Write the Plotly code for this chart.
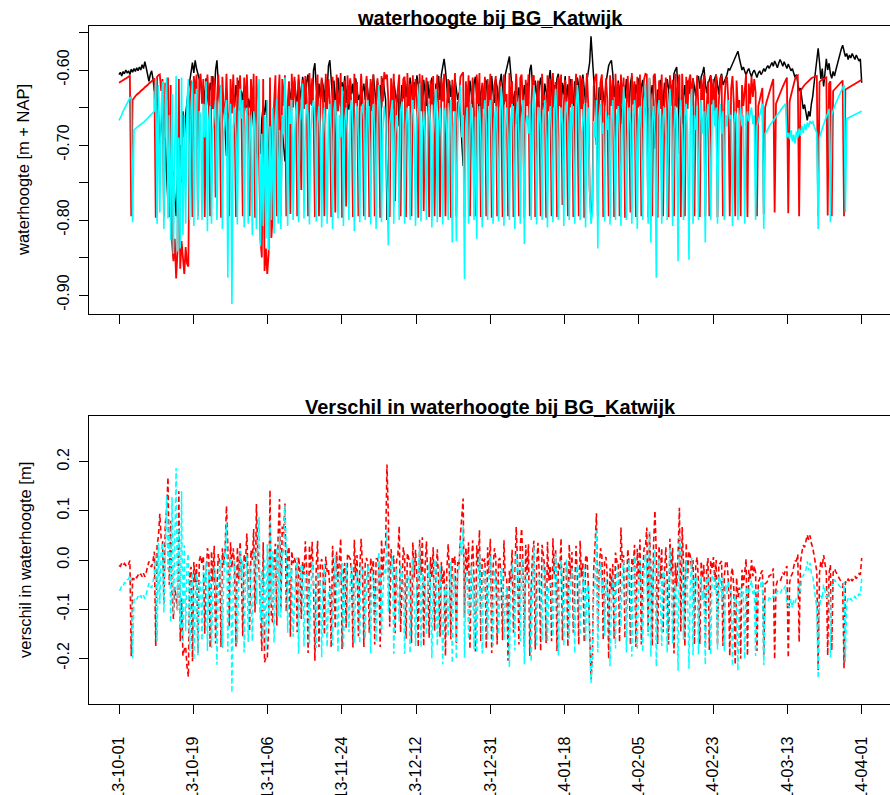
import numpy as np
import pandas as pd
import plotly.graph_objects as go

# ---------------- data (water levels in mm relative to NAP, 8-hourly) ----------------
START = "2013-10-01 00:00"
STEP = "8h"

black_mm = [
    -606,-603,-608,-602,-605,-600,-604,-601,-606,-599,-603,-598,-602,-597,-601,-596,-600,-593,-598,-589,-597,-605,-615,-606,-601,-612,-628,-622,-640,-655,
    -700,-672,-650,-705,-690,-740,-778,-745,-700,-760,-735,-770,-795,-740,-752,-700,-750,-655,-690,-660,-640,-625,-615,-600,-590,-604,-587,-598,-606,-612,
    -614,-636,-620,-646,-611,-630,-649,-617,-626,-608,-640,-600,-587,-618,-643,-620,-633,-645,-680,-715,-690,-660,-648,-642,-630,-648,-620,-636,-614,-644,
    -628,-640,-622,-645,-660,-638,-650,-632,-655,-668,-690,-722,-680,-700,-712,-665,-648,-660,-640,-672,-705,-752,-710,-668,-650,-640,-662,-690,-730,-695,
    -680,-700,-722,-690,-660,-642,-636,-623,-644,-614,-633,-648,-612,-626,-640,-609,-622,-646,-615,-606,-634,-620,-648,-600,-591,-623,-645,-618,-638,-612,
    -620,-643,-612,-628,-594,-587,-618,-638,-614,-650,-623,-610,-636,-648,-616,-628,-608,-644,-620,-653,-613,-632,-618,-646,-611,-626,-640,-633,-648,-628,
    -618,-640,-612,-630,-648,-616,-634,-606,-623,-646,-614,-636,-620,-650,-611,-628,-640,-800,-730,-660,-633,-648,-614,-626,-643,-630,-675,-648,-620,-638,
    -614,-636,-618,-648,-610,-626,-643,-616,-633,-607,-620,-646,-624,-653,-613,-630,-648,-615,-638,-620,-610,-634,-651,-618,-628,-608,-640,-606,-594,-585,
    -600,-628,-644,-614,-636,-620,-648,-611,-626,-640,-630,-660,-700,-728,-680,-640,-626,-643,-614,-633,-650,-618,-609,-636,-630,-665,-630,-620,-646,-612,
    -615,-638,-620,-648,-608,-630,-644,-612,-623,-650,-618,-605,-633,-646,-606,-595,-590,-582,-605,-636,-648,-628,-672,-640,-623,-640,-670,-638,-620,-644,
    -617,-638,-600,-593,-623,-646,-614,-632,-649,-620,-610,-636,-653,-618,-628,-644,-613,-600,-630,-648,-620,-638,-611,-605,-626,-650,-617,-633,-608,-643,
    -619,-640,-612,-628,-648,-615,-634,-610,-623,-646,-618,-606,-630,-644,-614,-600,-590,-555,-585,-603,-640,-700,-650,-623,-640,-614,-633,-648,-617,-606,
    -594,-590,-587,-605,-636,-620,-648,-614,-628,-672,-640,-620,-638,-612,-630,-650,-617,-608,-634,-646,-619,-632,-611,-648,-623,-613,-636,-630,-672,-650,
    -668,-633,-620,-640,-705,-660,-626,-643,-613,-630,-648,-617,-636,-612,-624,-650,-620,-638,-605,-600,-596,-630,-712,-650,-672,-638,-620,-644,-614,-632,
    -614,-630,-611,-623,-635,-613,-608,-625,-609,-604,-596,-617,-631,-619,-612,-607,-627,-618,-611,-606,-623,-633,-611,-605,-620,-615,-611,-606,-598,-600,
    -596,-592,-586,-582,-578,-575,-584,-594,-600,-596,-603,-607,-601,-598,-604,-609,-603,-600,-605,-610,-604,-601,-606,-603,-598,-602,-597,-594,-598,-593,
    -590,-595,-588,-592,-597,-591,-586,-590,-595,-589,-593,-598,-592,-596,-601,-598,-604,-610,-606,-618,-628,-624,-640,-652,-646,-660,-667,-655,-662,-645,
    -635,-618,-600,-585,-571,-590,-612,-598,-622,-604,-585,-600,-591,-605,-611,-602,-608,-600,-592,-585,-578,-572,-567,-575,-582,-578,-586,-580,-584,-578,
    -582,-586,-580,-584,-588,-585,-617,
]

red_mm = [
    -617,-616,-615,-613,-612,-611,-610,-609,-607,-795,-640,-637,-635,-633,-632,-630,-628,-627,-625,-623,-622,-620,-618,-617,-615,-613,-611,-797,-609,-607,
    -606,-628,-612,-795,-617,-640,-610,-796,-620,-830,-855,-825,-878,-842,-612,-865,-828,-850,-872,-836,-858,-862,-640,-614,-796,-608,-632,-606,-795,-613,
    -605,-645,-612,-796,-650,-606,-640,-795,-608,-652,-611,-770,-642,-606,-648,-797,-609,-655,-660,-605,-662,-795,-612,-658,-606,-663,-796,-610,-655,-607,
    -658,-795,-610,-650,-606,-663,-795,-612,-655,-605,-797,-608,-660,-720,-826,-850,-612,-868,-838,-872,-845,-610,-824,-795,-645,-607,-795,-640,-606,-794,
    -612,-648,-607,-795,-645,-615,-792,-605,-650,-609,-642,-795,-606,-644,-760,-613,-652,-608,-640,-795,-604,-646,-611,-655,-796,-636,-606,-795,-648,-610,
    -645,-795,-605,-652,-612,-642,-796,-609,-648,-790,-606,-655,-637,-604,-797,-650,-614,-782,-607,-646,-611,-658,-796,-605,-644,-616,-795,-652,-605,-640,
    -795,-648,-608,-640,-796,-612,-655,-606,-795,-644,-611,-650,-797,-608,-642,-603,-612,-606,-640,-796,-611,-652,-605,-775,-645,-620,-606,-795,-648,-612,
    -609,-796,-604,-648,-618,-795,-607,-652,-612,-640,-797,-605,-655,-607,-788,-644,-610,-650,-796,-614,-646,-608,-795,-650,-606,-655,-796,-610,-642,-605,
    -795,-648,-612,-650,-797,-613,-655,-604,-795,-644,-640,-609,-605,-603,-796,-615,-650,-607,-795,-648,-610,-656,-795,-606,-645,-604,-796,-617,-652,-609,
    -795,-612,-648,-605,-797,-646,-620,-608,-795,-650,-614,-655,-796,-606,-642,-632,-795,-604,-650,-615,-796,-648,-605,-645,-795,-611,-606,-650,-797,-613,
    -648,-606,-795,-650,-612,-607,-796,-646,-614,-652,-795,-605,-644,-633,-797,-607,-655,-612,-795,-604,-650,-616,-796,-609,-648,-606,-780,-646,-613,-652,
    -795,-608,-650,-612,-796,-645,-605,-648,-795,-607,-652,-611,-797,-640,-604,-648,-760,-798,-780,-622,-609,-605,-795,-645,-616,-606,-796,-650,-611,-640,
    -795,-607,-648,-613,-796,-605,-652,-617,-795,-606,-645,-610,-797,-650,-608,-655,-790,-604,-646,-615,-796,-609,-650,-606,-795,-642,-612,-605,-606,-796,
    -611,-650,-795,-608,-605,-646,-797,-614,-652,-606,-795,-645,-610,-655,-796,-607,-648,-613,-795,-605,-650,-617,-606,-796,-605,-645,-795,-609,-652,-614,
    -606,-648,-611,-795,-645,-607,-652,-796,-612,-640,-606,-795,-650,-615,-795,-608,-646,-612,-655,-606,-796,-640,-618,-607,-795,-648,-614,-609,-642,-795,
    -625,-608,-645,-795,-614,-650,-640,-795,-620,-648,-628,-605,-796,-618,-645,-609,-636,-612,-630,-795,-648,-640,-632,-624,-792,-650,-643,-636,-630,-624,
    -618,-612,-790,-645,-640,-635,-630,-626,-622,-618,-614,-610,-791,-642,-634,-626,-618,-612,-608,-607,-795,-628,-625,-622,-620,-618,-616,-614,-612,-611,
    -610,-609,-608,-608,-795,-616,-614,-613,-612,-611,-610,-794,-618,-615,-795,-628,-626,-624,-622,-620,-618,-616,-614,-795,-626,-625,-624,-623,-622,-621,
    -620,-619,-618,-617,-616,-615,-613,
]

cyan_mm = [
    -667,-664,-660,-655,-651,-647,-644,-640,-637,-636,-803,-680,-678,-677,-675,-674,-672,-671,-670,-668,-666,-664,-662,-660,-658,-657,-655,-612,-805,-620,
    -790,-655,-615,-812,-648,-610,-798,-660,-827,-632,-845,-700,-608,-842,-690,-838,-610,-820,-660,-805,-645,-612,-800,-650,-615,-808,-664,-625,-800,-655,
    -660,-800,-645,-690,-615,-815,-668,-648,-805,-680,-655,-640,-800,-672,-650,-620,-812,-685,-652,-640,-877,-668,-645,-912,-675,-650,-690,-806,-660,-625,
    -665,-640,-810,-680,-650,-805,-660,-690,-820,-655,-672,-812,-645,-612,-835,-685,-808,-660,-825,-640,-840,-675,-800,-650,-818,-668,-638,-805,-680,-812,
    -660,-685,-610,-665,-808,-648,-672,-640,-800,-690,-655,-642,-803,-668,-650,-618,-798,-675,-645,-660,-806,-683,-650,-640,-665,-802,-670,-648,-690,-810,
    -672,-650,-690,-805,-660,-645,-680,-812,-655,-640,-675,-798,-660,-690,-622,-808,-668,-650,-685,-800,-655,-640,-678,-815,-665,-648,-690,-803,-660,-645,
    -668,-800,-655,-640,-685,-806,-660,-645,-690,-812,-670,-620,-655,-803,-680,-648,-668,-740,-834,-672,-650,-640,-805,-685,-660,-690,-800,-655,-642,-678,
    -805,-672,-650,-685,-800,-660,-640,-688,-808,-665,-648,-618,-802,-680,-655,-690,-800,-662,-645,-675,-810,-685,-650,-625,-803,-672,-650,-690,-806,-660,
    -650,-688,-800,-665,-640,-830,-675,-655,-828,-668,-648,-620,-690,-660,-879,-672,-650,-805,-680,-645,-690,-800,-662,-825,-670,-648,-690,-810,-665,-640,
    -672,-800,-660,-640,-690,-805,-665,-648,-685,-802,-670,-622,-655,-808,-680,-650,-690,-800,-668,-645,-680,-812,-660,-642,-688,-805,-665,-640,-832,-672,
    -660,-685,-645,-800,-670,-620,-660,-806,-688,-650,-672,-800,-660,-640,-690,-810,-668,-648,-682,-803,-655,-625,-668,-800,-690,-650,-672,-808,-660,-642,
    -672,-800,-660,-645,-685,-805,-665,-620,-650,-800,-688,-660,-645,-810,-672,-650,-760,-805,-790,-668,-690,-640,-838,-662,-645,-685,-670,-802,-655,-680,
    -660,-806,-675,-640,-690,-800,-662,-648,-685,-808,-668,-622,-660,-800,-688,-650,-672,-805,-660,-640,-690,-812,-670,-648,-680,-800,-660,-618,-685,-805,
    -610,-830,-668,-648,-685,-877,-660,-640,-680,-805,-662,-650,-690,-800,-672,-625,-660,-808,-680,-648,-670,-855,-665,-640,-688,-800,-662,-645,-685,-853,
    -665,-625,-805,-660,-680,-648,-800,-672,-640,-685,-655,-830,-668,-645,-690,-800,-662,-640,-675,-650,-805,-668,-645,-685,-655,-800,-660,-675,-640,-665,
    -660,-808,-672,-655,-662,-800,-668,-650,-675,-660,-805,-670,-655,-668,-660,-650,-672,-660,-800,-675,-668,-660,-652,-645,-812,-685,-682,-678,-675,-672,
    -670,-668,-665,-662,-660,-657,-655,-652,-650,-647,-645,-690,-684,-692,-680,-695,-686,-698,-682,-690,-678,-688,-674,-684,-672,-680,-670,-676,-668,-672,
    -668,-675,-680,-684,-812,-690,-684,-678,-672,-668,-662,-658,-652,-803,-660,-654,-648,-644,-640,-636,-632,-628,-624,-620,-790,-665,-664,-663,-662,-661,
    -660,-660,-659,-658,-657,-656,-655,
]

tick_labels = ["2013-10-01", "2013-10-19", "2013-11-06", "2013-11-24", "2013-12-12",
               "2013-12-31", "2014-01-18", "2014-02-05", "2014-02-23", "2014-03-13",
               "2014-04-01"]
top_tick_vals = [-0.55, -0.60, -0.65, -0.70, -0.75, -0.80, -0.85, -0.90]
top_tick_text = ["", "-0.60", "", "-0.70", "", "-0.80", "", "-0.90"]
bot_tick_vals = [-0.2, -0.1, 0.0, 0.1, 0.2]
bot_tick_text = ["-0.2", "-0.1", "0.0", "0.1", "0.2"]

assert len(black_mm) == len(red_mm) == len(cyan_mm), (len(black_mm), len(red_mm), len(cyan_mm))

# ---------------- derived series ----------------
t = pd.date_range(START, periods=len(black_mm), freq=STEP)
black = np.array(black_mm) / 1000.0
red = np.array(red_mm) / 1000.0
cyan = np.array(cyan_mm) / 1000.0
diff_red = red - black
diff_cyan = cyan - black

t0, t1 = t[0], t[-1]
span_days = (t1 - t0) / pd.Timedelta(days=1)
tick_times = [t0 + pd.Timedelta(days=span_days * k / 10) for k in range(11)]

# ---------------- layout geometry ----------------
W, H = 890, 795
FONT = "Liberation Sans, Arial, Helvetica, sans-serif"
px_per_day = 742.7 / span_days
x_left_px, x_first_px = 89.3, 119.0
rng_left = t0 - pd.Timedelta(days=(x_first_px - x_left_px) / px_per_day)
rng_right = t0 + pd.Timedelta(days=(W - x_first_px) / px_per_day)


def fy(py):
    return (H - py) / H


axis_common = dict(showgrid=False, zeroline=False, showline=True, linecolor="black",
                   linewidth=1.3, ticks="outside", ticklen=9, tickwidth=1.3,
                   tickcolor="black", automargin=False,
                   tickfont=dict(family=FONT, size=16, color="black"))

fig = go.Figure()
fig.add_trace(go.Scatter(x=t, y=black, mode="lines", line=dict(color="black", width=1.5),
                         xaxis="x", yaxis="y", hoverinfo="skip"))
fig.add_trace(go.Scatter(x=t, y=red, mode="lines", line=dict(color="#FF0000", width=1.8),
                         xaxis="x", yaxis="y", hoverinfo="skip"))
fig.add_trace(go.Scatter(x=t, y=cyan, mode="lines", line=dict(color="#00FFFF", width=1.6),
                         xaxis="x", yaxis="y", hoverinfo="skip"))
fig.add_trace(go.Scatter(x=t, y=diff_red, mode="lines",
                         line=dict(color="#FF0000", width=1.6, dash="5px,3px"),
                         xaxis="x2", yaxis="y2", hoverinfo="skip"))
fig.add_trace(go.Scatter(x=t, y=diff_cyan, mode="lines",
                         line=dict(color="#00FFFF", width=1.5, dash="5px,3px"),
                         xaxis="x2", yaxis="y2", hoverinfo="skip"))

xdom = [x_left_px / W, 1.0]
fig.update_layout(
    width=W, height=H, margin=dict(l=0, r=0, t=0, b=0, autoexpand=False),
    paper_bgcolor="white", plot_bgcolor="white", showlegend=False,
    xaxis=dict(domain=xdom, anchor="y", type="date", range=[rng_left, rng_right],
               tickvals=tick_times, showticklabels=False, mirror=True, **axis_common),
    yaxis=dict(domain=[fy(314.0), fy(25.7)], anchor="x", range=[-0.9253, -0.5409],
               tickvals=top_tick_vals, ticktext=top_tick_text, tickangle=-90,
               ticklabelstandoff=4, **axis_common),
    xaxis2=dict(domain=xdom, anchor="y2", type="date", range=[rng_left, rng_right],
                tickvals=tick_times, ticktext=tick_labels, tickangle=-90,
                ticklabelstandoff=16, mirror=True, **axis_common),
    yaxis2=dict(domain=[fy(704.0), fy(415.7)], anchor="x2", range=[-0.2929, 0.2935],
                tickvals=bot_tick_vals, ticktext=bot_tick_text, tickangle=-90,
                ticklabelstandoff=4, **axis_common),
)

ann_font = dict(family=FONT, size=16.5, color="black")
title_font = dict(family=FONT, size=20, color="black")
fig.add_annotation(text="<b>waterhoogte bij BG_Katwijk</b>", xref="paper", yref="paper",
                   x=490 / W, y=fy(18), xanchor="center", yanchor="middle",
                   showarrow=False, font=title_font)
fig.add_annotation(text="<b>Verschil in waterhoogte bij BG_Katwijk</b>", xref="paper", yref="paper",
                   x=490 / W, y=fy(407), xanchor="center", yanchor="middle",
                   showarrow=False, font=title_font)
fig.add_annotation(text="waterhoogte [m + NAP]", xref="paper", yref="paper",
                   x=23 / W, y=fy(170), xanchor="center", yanchor="middle", textangle=-90,
                   showarrow=False, font=ann_font)
fig.add_annotation(text="verschil in waterhoogte [m]", xref="paper", yref="paper",
                   x=25 / W, y=fy(560), xanchor="center", yanchor="middle", textangle=-90,
                   showarrow=False, font=ann_font)

fig.write_html("out.html", config={"displayModeBar": False})
